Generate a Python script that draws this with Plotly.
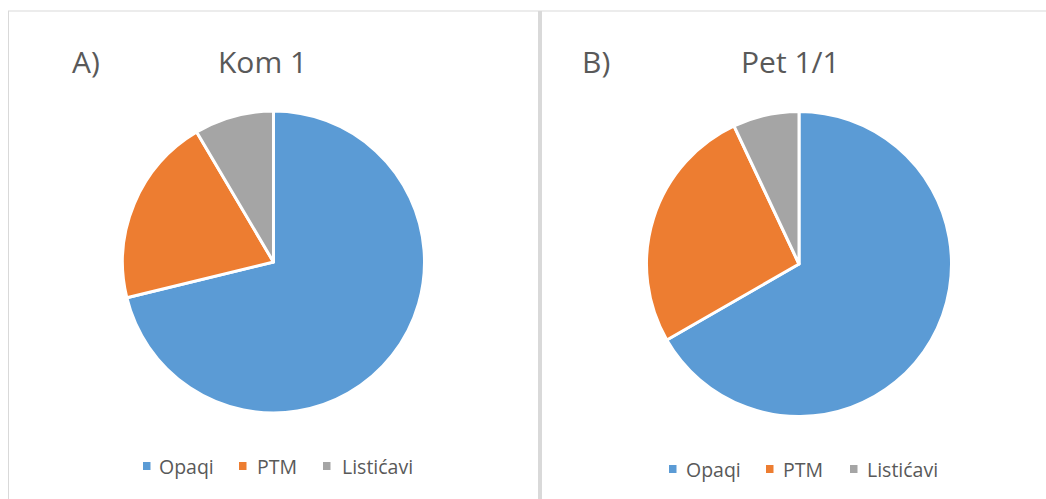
import plotly.graph_objects as go

W, H = 1046, 499

# Shares of each group per stand (%)
labels = ["Opaqi", "PTM", "Listićavi"]
kom1_values = [71.2, 20.3, 8.5]
pet11_values = [66.7, 26.3, 7.0]
colors = ["#5B9BD5", "#ED7D31", "#A5A5A5"]
panel_letters = ["A)", "B)"]
panel_titles = ["Kom 1", "Pet 1/1"]

TEXT = "#595959"
FONT = "Open Sans"
BORDER = "#D9D9D9"


def px_x(v):
    return v / W


def px_y(v):
    return 1 - v / H


fig = go.Figure()

pie_domains = [
    dict(x=[px_x(122.5), px_x(424.5)], y=[px_y(413), px_y(111)]),
    dict(x=[px_x(646.5), px_x(951.5)], y=[px_y(416.5), px_y(111.5)]),
]
for vals, dom in zip([kom1_values, pet11_values], pie_domains):
    fig.add_trace(go.Pie(
        labels=labels,
        values=vals,
        sort=False,
        direction="clockwise",
        rotation=0,
        textinfo="none",
        hoverinfo="label+percent",
        marker=dict(colors=colors, line=dict(color="white", width=3)),
        domain=dom,
        showlegend=False,
    ))

shapes = [
    # panel frames
    dict(type="line", xref="paper", yref="paper",
         x0=px_x(8), x1=1, y0=px_y(11), y1=px_y(11),
         line=dict(color=BORDER, width=1)),
    dict(type="line", xref="paper", yref="paper",
         x0=px_x(8.5), x1=px_x(8.5), y0=px_y(11), y1=0,
         line=dict(color=BORDER, width=1)),
    dict(type="rect", xref="paper", yref="paper",
         x0=px_x(538), x1=px_x(542), y0=px_y(11), y1=0,
         fillcolor=BORDER, line=dict(width=0)),
]

annotations = []
# panel letters and titles
letter_x = [86, 596]
title_x = [262, 791]
for lx, tx, letter, title in zip(letter_x, title_x, panel_letters, panel_titles):
    annotations.append(dict(
        text=letter, x=px_x(lx), y=px_y(61), xref="paper", yref="paper",
        xanchor="center", yanchor="middle", showarrow=False,
        font=dict(family=FONT, size=30, color=TEXT)))
    annotations.append(dict(
        text=title, x=px_x(tx), y=px_y(61), xref="paper", yref="paper",
        xanchor="center", yanchor="middle", showarrow=False,
        font=dict(family=FONT, size=30, color=TEXT)))

# legends drawn below each pie: swatch left edge, text left edge, row centre
legend_rows = [
    dict(sw=[143, 239, 323], tx=[157, 255, 340], y=466),
    dict(sw=[669, 766, 850], tx=[684, 781, 865], y=469),
]
for row in legend_rows:
    for lab, col, sx, tx in zip(labels, colors, row["sw"], row["tx"]):
        shapes.append(dict(
            type="rect", xref="paper", yref="paper",
            x0=px_x(sx), x1=px_x(sx + 7.5),
            y0=px_y(row["y"] + 4), y1=px_y(row["y"] - 4),
            fillcolor=col, line=dict(width=0)))
        annotations.append(dict(
            text=lab, x=px_x(tx), y=px_y(row["y"]), xref="paper", yref="paper",
            xanchor="left", yanchor="middle", showarrow=False,
            font=dict(family=FONT, size=19.5, color=TEXT)))

fig.update_layout(
    width=W, height=H,
    margin=dict(l=0, r=0, t=0, b=0),
    paper_bgcolor="white",
    plot_bgcolor="white",
    shapes=shapes,
    annotations=annotations,
)

fig.write_html("out.html")
